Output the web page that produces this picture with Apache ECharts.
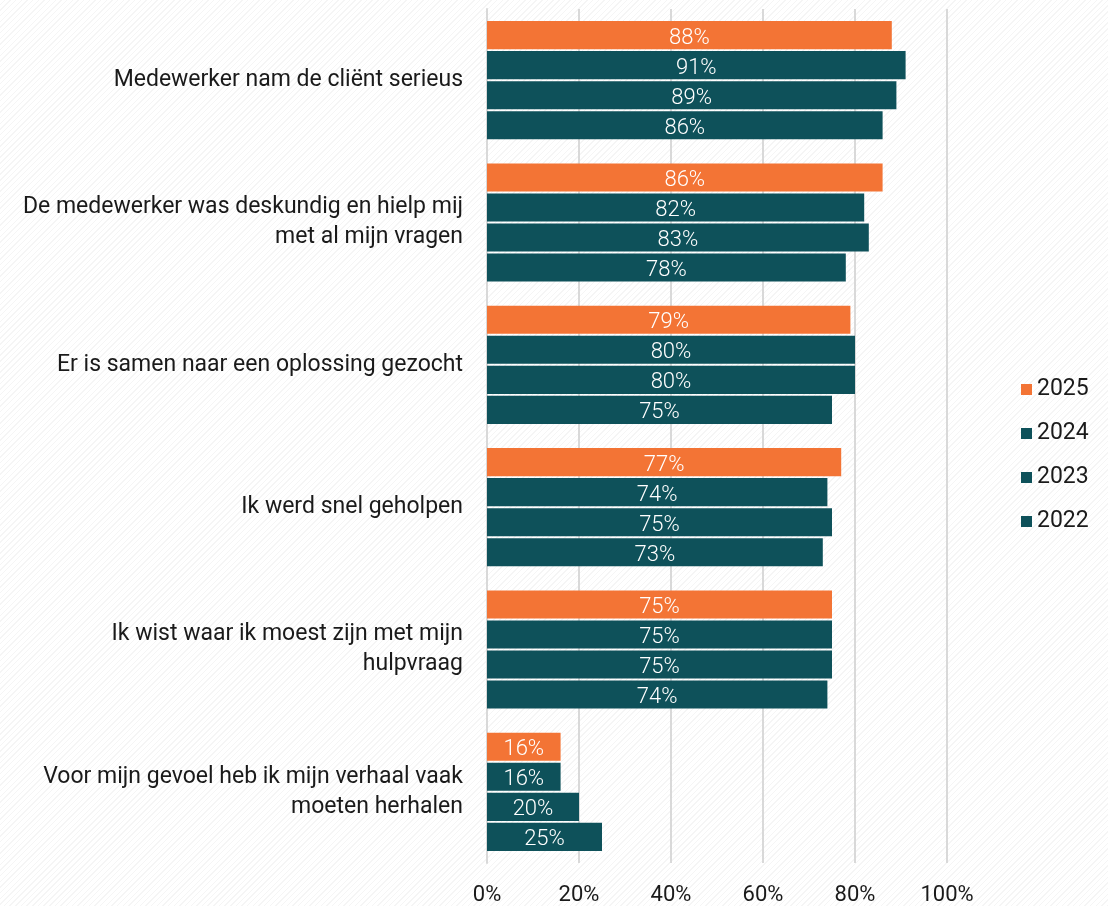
<!DOCTYPE html>
<html>
<head>
<meta charset="utf-8">
<script src="https://cdn.jsdelivr.net/npm/echarts@6/dist/echarts.min.js"></script>
<style>
  html, body { margin: 0; padding: 0; }
  body {
    width: 1108px; height: 906px;
    background: #ffffff repeating-linear-gradient(135deg, #ffffff 0px, #ffffff 3px, #f5f5f5 3px, #f5f5f5 4px);
  }
  #chart { width: 1108px; height: 906px; }
</style>
</head>
<body>
<div id="chart"></div>
<script>
// Survey statements (top to bottom)
const categories = [
  'Medewerker nam de cliënt serieus',
  'De medewerker was deskundig en hielp mij\nmet al mijn vragen',
  'Er is samen naar een oplossing gezocht',
  'Ik werd snel geholpen',
  'Ik wist waar ik moest zijn met mijn\nhulpvraag',
  'Voor mijn gevoel heb ik mijn verhaal vaak\nmoeten herhalen'
];

const years = ['2025', '2024', '2023', '2022'];

// Percentage agreeing, per year
const values2025 = [88, 86, 79, 77, 75, 16];
const values2024 = [91, 82, 80, 74, 75, 16];
const values2023 = [89, 83, 80, 75, 75, 20];
const values2022 = [86, 78, 75, 73, 74, 25];

const xTicks = [0, 20, 40, 60, 80, 100];

const ORANGE = '#F37435';
const TEAL = '#0E515A';
const FONT = 'Roboto, "Open Sans", sans-serif';

function makeSeries(name, data, color) {
  return {
    name: name,
    type: 'bar',
    data: data,
    barGap: '7%',
    barCategoryGap: '17%',
    itemStyle: { color: color },
    label: {
      show: true,
      position: 'inside',
      offset: [0, 3],
      formatter: p => p.value + '%',
      color: '#ffffff',
      fontFamily: FONT,
      fontWeight: 300,
      fontSize: 22
    }
  };
}

const chart = echarts.init(document.getElementById('chart'), null, { renderer: 'canvas' });
chart.setOption({
  backgroundColor: 'transparent',
  animation: false,
  grid: { left: 487, right: 161, top: 9, height: 855, containLabel: false },
  legend: {
    orient: 'vertical',
    left: 1016,
    top: 373,
    itemGap: 21,
    itemWidth: 11,
    itemHeight: 11,
    icon: 'rect',
    data: years,
    textStyle: { fontFamily: FONT, fontSize: 23, color: '#1a1a1a' }
  },
  xAxis: {
    type: 'value',
    min: xTicks[0],
    max: xTicks[xTicks.length - 1],
    interval: 20,
    axisLine: { show: false },
    axisTick: { show: false },
    splitLine: { show: true, lineStyle: { color: '#d9d9d9', width: 2 } },
    axisLabel: {
      formatter: v => v + '%',
      fontFamily: FONT,
      fontSize: 22,
      color: '#1a1a1a',
      margin: 21
    }
  },
  yAxis: {
    type: 'category',
    inverse: true,
    data: categories,
    axisLine: { show: true, lineStyle: { color: '#d9d9d9', width: 2 } },
    axisTick: { show: false },
    axisLabel: {
      fontFamily: FONT,
      fontSize: 23,
      color: '#1a1a1a',
      margin: 24,
      lineHeight: 30,
      align: 'right'
    }
  },
  series: [
    makeSeries(years[0], values2025, ORANGE),
    makeSeries(years[1], values2024, TEAL),
    makeSeries(years[2], values2023, TEAL),
    makeSeries(years[3], values2022, TEAL)
  ]
});
</script>
</body>
</html>
